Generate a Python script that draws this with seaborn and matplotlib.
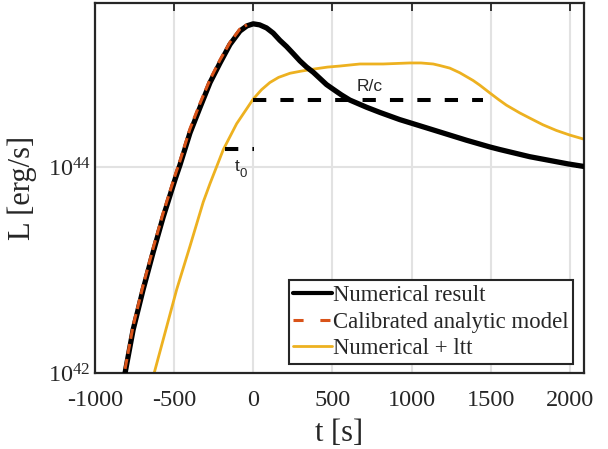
import numpy as np
import pandas as pd
import matplotlib
matplotlib.use("Agg")
import matplotlib.pyplot as plt
import seaborn as sns

# ---- data ----
t_num = [-810, -759, -696, -633, -570, -494, -463, -400, -336, -273, -210, -147, -84, -40, 0, 40, 84, 126, 168, 210, 253, 295, 337, 379, 421, 463, 505, 557, 610, 716, 800, 926, 1000, 1137, 1221, 1347, 1494, 1557, 1747, 1989, 2090]
logL_num = [42.0, 42.42, 42.81, 43.17, 43.51, 43.88, 44.02, 44.33, 44.58, 44.82, 45.01, 45.19, 45.32, 45.37, 45.39, 45.38, 45.35, 45.30, 45.23, 45.17, 45.10, 45.03, 44.97, 44.92, 44.86, 44.80, 44.755, 44.70, 44.65, 44.58, 44.53, 44.46, 44.425, 44.36, 44.32, 44.26, 44.195, 44.17, 44.10, 44.03, 44.005]

t_ana = [-810, -759, -696, -633, -570, -494, -463, -400, -336, -273, -210, -147, -84, -40]
logL_ana = [42.04, 42.46, 42.85, 43.21, 43.55, 43.92, 44.06, 44.37, 44.62, 44.85, 45.04, 45.21, 45.34, 45.38]

t_ltt = [-626, -547, -484, -400, -316, -273, -189, -105, 0, 52, 105, 160, 232, 300, 379, 470, 547, 610, 674, 821, 989, 1060, 1137, 1179, 1242, 1305, 1389, 1431, 1494, 1550, 1600, 1684, 1747, 1830, 1915, 2000, 2090]
logL_ltt = [42.0, 42.45, 42.81, 43.23, 43.66, 43.84, 44.17, 44.42, 44.66, 44.75, 44.82, 44.87, 44.91, 44.93, 44.95, 44.97, 44.98, 44.99, 45.0, 45.0, 45.01, 45.01, 45.0, 44.985, 44.96, 44.915, 44.84, 44.795, 44.72, 44.655, 44.6, 44.525, 44.475, 44.41, 44.355, 44.31, 44.27]

rc_t = [0, 1452]
rc_logL = [44.65, 44.65]
t0_t = [-180, 4]
t0_logL = [44.17, 44.17]

labels = ["Numerical result", "Calibrated analytic model", "Numerical + ltt"]
xticks = [-1000, -500, 0, 500, 1000, 1500, 2000]

sns.set_theme(style="white")
plt.rcParams["font.family"] = ["Liberation Serif", "DejaVu Serif"]
plt.rcParams["mathtext.fontset"] = "custom"
plt.rcParams["mathtext.rm"] = "Liberation Serif"
plt.rcParams["mathtext.it"] = "Liberation Serif"

fig = plt.figure(figsize=(6.08, 4.49), dpi=100)
ax = fig.add_axes([95/608, 1 - 373/449, 489/608, 370.3/449])

df_num = pd.DataFrame({"t": t_num, "L": 10.0 ** np.array(logL_num)})
df_ana = pd.DataFrame({"t": t_ana, "L": 10.0 ** np.array(logL_ana)})
df_ltt = pd.DataFrame({"t": t_ltt, "L": 10.0 ** np.array(logL_ltt)})

ax.set_yscale("log")
for x in xticks:
    ax.axvline(x, color="#e2e2e2", lw=1.5, zorder=0)
ax.axhline(1e44, color="#e2e2e2", lw=1.5, zorder=0)

sns.lineplot(data=df_ltt, x="t", y="L", ax=ax, color="#EDB120", lw=2.0, label=labels[2], zorder=2)
sns.lineplot(data=df_num, x="t", y="L", ax=ax, color="black", lw=3.8, label=labels[0], zorder=3)
sns.lineplot(data=df_ana, x="t", y="L", ax=ax, color="#D95319", lw=2.2, label=labels[1], zorder=4)
ax.lines[-1].set_dashes((3.3, 1.7))

ax.plot(rc_t, 10.0 ** np.array(rc_logL), color="black", lw=2.9, dashes=(3.3, 3.5), zorder=5)
ax.plot(t0_t, 10.0 ** np.array(t0_logL), color="black", lw=2.9, dashes=(3.3, 3.5), zorder=5)
ax.text(737, 10 ** 44.78, "R/c", fontsize=12.5, family="Liberation Sans", ha="center", va="center")
ax.text(-84, 10 ** 44.0, "t", fontsize=12.5, family="Liberation Sans", ha="right", va="center")
ax.text(-84, 10 ** 43.93, "0", fontsize=9.5, family="Liberation Sans", ha="left", va="center")

ax.set_xlim(-1000, 2090)
ax.set_ylim(1e42, 10 ** 45.595)
ax.set_xticks(xticks)
ax.set_xticklabels([str(x) for x in xticks])
ax.set_yticks([1e42, 1e44])
ax.set_yticklabels([r"$10^{42}$", r"$10^{44}$"])
ax.yaxis.set_minor_locator(matplotlib.ticker.NullLocator())
ax.tick_params(axis="both", which="major", direction="in", length=6, width=1.3,
               top=True, right=True, labelsize=17.5, color="#262626", labelcolor="#262626")
ax.tick_params(axis="x", pad=12)
ax.tick_params(axis="y", pad=3)
for s in ax.spines.values():
    s.set_color("#262626")
    s.set_linewidth(1.6)

ax.set_xlabel("t [s]", fontsize=22, color="#262626", labelpad=6)
ax.set_ylabel("L [erg/s]", fontsize=22, color="#262626")
ax.yaxis.set_label_coords(-0.1186, 0.5)

handles, labs = ax.get_legend_handles_labels()
order = [labs.index(l) for l in labels]
leg = ax.legend([handles[i] for i in order], [labs[i] for i in order],
                loc="lower right", bbox_to_anchor=(0.978, 0.0243), borderaxespad=0,
                fontsize=16.4, frameon=True, fancybox=False, framealpha=1,
                handlelength=1.7, handletextpad=0.05, borderpad=0.2, labelspacing=0.26)
leg.get_frame().set_edgecolor("#262626")
leg.get_frame().set_linewidth(1.5)
leg.legend_handles[0].set_linewidth(3.0)
leg.legend_handles[1].set_dashes((3.3, 5.5))
leg.legend_handles[2].set_linewidth(2.0)

fig.savefig("out.png", dpi=100)
